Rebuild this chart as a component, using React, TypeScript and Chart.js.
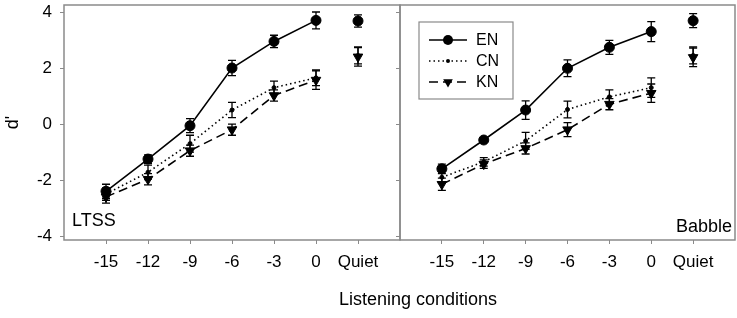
import React, { useEffect, useRef } from "react";
import { Chart, registerables } from "chart.js";

Chart.register(...registerables);

// ---------- data ----------
const conditions = ["-15", "-12", "-9", "-6", "-3", "0", "Quiet"];
const yTickValues = [-4, -2, 0, 2, 4];
const yTickLabels = ["-4", "-2", "0", "2", "4"];
const seriesNames = ["EN", "CN", "KN"];
const panelNames = ["LTSS", "Babble"];

const ltssEN = [-2.4, -1.25, -0.06, 2.0, 2.95, 3.7, 3.68];
const ltssENerr = [0.25, 0.15, 0.25, 0.27, 0.22, 0.3, 0.22];
const ltssCN = [-2.5, -1.72, -0.7, 0.5, 1.3, 1.65, 2.45];
const ltssCNerr = [0.22, 0.25, 0.3, 0.27, 0.23, 0.28, 0.3];
const ltssKN = [-2.6, -1.97, -0.95, -0.2, 1.02, 1.57, 2.4];
const ltssKNerr = [0.22, 0.2, 0.2, 0.2, 0.2, 0.33, 0.33];

const babbleEN = [-1.6, -0.57, 0.5, 1.99, 2.74, 3.3, 3.69];
const babbleENerr = [0.17, 0.06, 0.33, 0.3, 0.25, 0.36, 0.25];
const babbleCN = [-1.9, -1.35, -0.6, 0.52, 0.97, 1.3, 2.45];
const babbleCNerr = [0.2, 0.15, 0.3, 0.3, 0.25, 0.35, 0.3];
const babbleKN = [-2.15, -1.43, -0.87, -0.2, 0.71, 1.1, 2.38];
const babbleKNerr = [0.22, 0.15, 0.2, 0.25, 0.2, 0.33, 0.33];

// ---------- styles ----------
const FONT = "'Liberation Sans', Arial, sans-serif";
const FRAME = "#8a8a8a";
const INK = "#000000";

const styles = [
  { dash: [] as number[], radius: 5, pointStyle: "circle", rotation: 0 },
  { dash: [1.5, 3], radius: 2, pointStyle: "circle", rotation: 0 },
  { dash: [9, 5], radius: 5.5, pointStyle: "triangle", rotation: 180 },
];

function makeDatasets(values: number[][], errors: number[][]) {
  const q = conditions.length - 1;
  return values.map((vals, s) => ({
    label: seriesNames[s],
    data: vals.map((v, i) => ({ x: i, y: v })),
    errors: errors[s],
    borderColor: INK,
    backgroundColor: INK,
    borderWidth: 1.6,
    borderDash: styles[s].dash,
    pointRadius: styles[s].radius,
    pointStyle: styles[s].pointStyle,
    rotation: styles[s].rotation,
    pointBorderColor: INK,
    pointBackgroundColor: INK,
    pointBorderWidth: 1,
    segment: {
      borderColor: (ctx: any) => (ctx.p1DataIndex === q ? "rgba(0,0,0,0)" : INK),
    },
  }));
}

const errorBarPlugin = {
  id: "errorBars",
  afterDatasetsDraw(chart: any) {
    const ctx = chart.ctx;
    const xs = chart.scales.x;
    const ys = chart.scales.y;
    ctx.save();
    ctx.strokeStyle = INK;
    ctx.lineWidth = 1.3;
    ctx.setLineDash([]);
    chart.data.datasets.forEach((ds: any) => {
      ds.data.forEach((p: any, i: number) => {
        const e = ds.errors[i];
        const x = xs.getPixelForValue(p.x);
        const y1 = ys.getPixelForValue(p.y - e);
        const y2 = ys.getPixelForValue(p.y + e);
        ctx.beginPath();
        ctx.moveTo(x, y1);
        ctx.lineTo(x, y2);
        ctx.moveTo(x - 4, y1);
        ctx.lineTo(x + 4, y1);
        ctx.moveTo(x - 4, y2);
        ctx.lineTo(x + 4, y2);
        ctx.stroke();
      });
    });
    ctx.restore();
  },
};

const framePlugin = {
  id: "frame",
  afterDraw(chart: any) {
    const { ctx, chartArea: a } = chart;
    ctx.save();
    ctx.strokeStyle = FRAME;
    ctx.lineWidth = 1.5;
    ctx.setLineDash([]);
    ctx.strokeRect(a.left, a.top, a.right - a.left, a.bottom - a.top);
    ctx.restore();
  },
};

function panelLabelPlugin(text: string, align: "left" | "right") {
  return {
    id: "panelLabel",
    afterDraw(chart: any) {
      const { ctx, chartArea: a } = chart;
      ctx.save();
      ctx.fillStyle = INK;
      ctx.font = `18px ${FONT}`;
      ctx.textBaseline = "alphabetic";
      if (align === "left") {
        ctx.textAlign = "left";
        ctx.fillText(text, a.left + 8, a.bottom - 14);
      } else {
        ctx.textAlign = "right";
        ctx.fillText(text, a.right - 3, a.bottom - 8);
      }
      ctx.restore();
    },
  };
}

const legendPlugin = {
  id: "customLegend",
  afterDraw(chart: any) {
    const { ctx, chartArea: a } = chart;
    const bx = a.left + 19;
    const by = a.top + 17;
    ctx.save();
    ctx.strokeStyle = FRAME;
    ctx.lineWidth = 1.2;
    ctx.setLineDash([]);
    ctx.strokeRect(bx, by, 94, 77);
    seriesNames.forEach((name, s) => {
      const y = by + 18 + s * 21;
      const x1 = bx + 10;
      const x2 = bx + 48;
      ctx.strokeStyle = INK;
      ctx.lineWidth = 1.6;
      ctx.setLineDash(styles[s].dash);
      ctx.beginPath();
      ctx.moveTo(x1, y);
      ctx.lineTo(x2, y);
      ctx.stroke();
      ctx.setLineDash([]);
      const cx = (x1 + x2) / 2;
      ctx.fillStyle = INK;
      ctx.beginPath();
      if (styles[s].pointStyle === "triangle") {
        const r = 5.5;
        ctx.moveTo(cx - r * 0.87, y - r * 0.5);
        ctx.lineTo(cx + r * 0.87, y - r * 0.5);
        ctx.lineTo(cx, y + r);
        ctx.closePath();
      } else {
        ctx.arc(cx, y, styles[s].radius, 0, Math.PI * 2);
      }
      ctx.fill();
      ctx.font = `16px ${FONT}`;
      ctx.textAlign = "left";
      ctx.textBaseline = "middle";
      ctx.fillText(name, bx + 57, y + 1);
    });
    ctx.restore();
  },
};

const zeroPadding = (s: any) => {
  s.paddingTop = 0;
  s.paddingBottom = 0;
  s.paddingLeft = 0;
  s.paddingRight = 0;
};

function makeConfig(isLeft: boolean, datasets: any[], extraPlugins: any[]) {
  return {
    type: "line" as const,
    data: { datasets },
    options: {
      animation: false,
      responsive: false,
      devicePixelRatio: 1,
      layout: { autoPadding: false, padding: { top: 5, right: isLeft ? 1 : 2, bottom: 0, left: 0 } },
      plugins: { legend: { display: false }, tooltip: { enabled: false } },
      scales: {
        x: {
          type: "linear",
          min: -1,
          max: 7,
          afterBuildTicks: (s: any) => {
            s.ticks = conditions.map((_, i) => ({ value: i }));
          },
          afterFit: (s: any) => {
            s.height = 78;
            zeroPadding(s);
          },
          ticks: {
            callback: (v: any) => conditions[v] ?? "",
            font: { family: FONT, size: 17 },
            color: INK,
            padding: 8,
            maxRotation: 0,
            autoSkip: false,
          },
          grid: { drawOnChartArea: false, drawTicks: true, tickLength: 4, color: FRAME, lineWidth: 1 },
          border: { display: false },
        },
        y: {
          type: "linear",
          min: -4.14,
          max: 4.25,
          afterBuildTicks: (s: any) => {
            s.ticks = yTickValues.map((v) => ({ value: v }));
          },
          afterFit: (s: any) => {
            s.width = isLeft ? 64 : 12;
            zeroPadding(s);
          },
          ticks: {
            display: isLeft,
            callback: (v: any) => yTickLabels[yTickValues.indexOf(v)] ?? "",
            font: { family: FONT, size: 17 },
            color: INK,
            padding: 8,
          },
          grid: { drawOnChartArea: false, drawTicks: true, tickLength: 4, color: FRAME, lineWidth: 1 },
          border: { display: false },
          title: {
            display: isLeft,
            text: "d'",
            color: INK,
            font: { family: FONT, size: 18 },
            padding: { top: 2, bottom: 0 },
          },
        },
      },
    },
    plugins: [framePlugin, errorBarPlugin, ...extraPlugins],
  };
}

export default function App() {
  const leftRef = useRef<HTMLCanvasElement>(null);
  const rightRef = useRef<HTMLCanvasElement>(null);

  useEffect(() => {
    const left = new Chart(
      leftRef.current as HTMLCanvasElement,
      makeConfig(
        true,
        makeDatasets([ltssEN, ltssCN, ltssKN], [ltssENerr, ltssCNerr, ltssKNerr]),
        [panelLabelPlugin(panelNames[0], "left")]
      ) as any
    );
    const right = new Chart(
      rightRef.current as HTMLCanvasElement,
      makeConfig(
        false,
        makeDatasets([babbleEN, babbleCN, babbleKN], [babbleENerr, babbleCNerr, babbleKNerr]),
        [panelLabelPlugin(panelNames[1], "right"), legendPlugin]
      ) as any
    );
    return () => {
      left.destroy();
      right.destroy();
    };
  }, []);

  return (
    <div style={{ position: "absolute", left: 0, top: 0, width: 737, height: 318, background: "#fff" }}>
      <canvas ref={leftRef} width={401} height={318} style={{ position: "absolute", left: 0, top: 0, width: 401, height: 318 }} />
      <canvas ref={rightRef} width={349} height={318} style={{ position: "absolute", left: 388, top: 0, width: 349, height: 318 }} />
      <div
        style={{
          position: "absolute",
          left: 318,
          top: 289,
          width: 200,
          textAlign: "center",
          fontFamily: FONT,
          fontSize: 18,
          lineHeight: "20px",
          color: INK,
        }}
      >
        Listening conditions
      </div>
    </div>
  );
}
